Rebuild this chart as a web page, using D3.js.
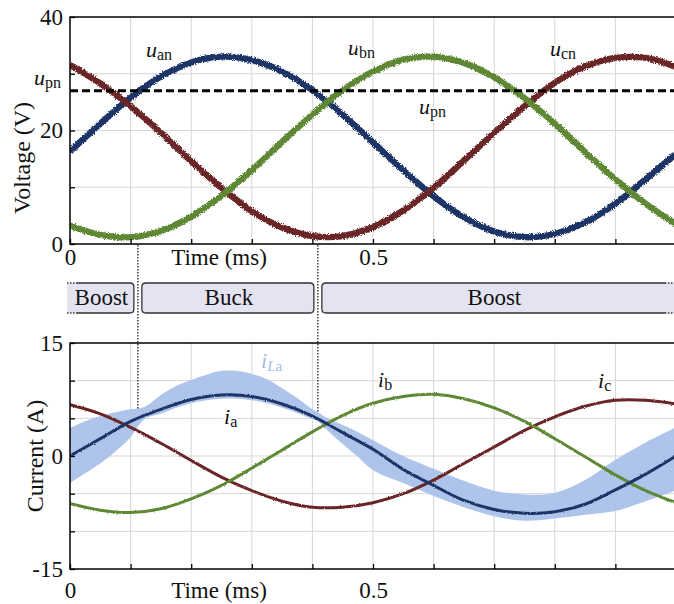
<!DOCTYPE html>
<html>
<head>
<meta charset="utf-8">
<script src="https://cdn.jsdelivr.net/npm/d3@7"></script>
<style>
  html, body { margin: 0; padding: 0; background: #fff; }
  svg { display: block; font-family: "Liberation Serif", "Times New Roman", serif; }
</style>
</head>
<body>
<svg id="chart" width="674" height="604"></svg>
<script>
// ---- sampled waveforms (time in ms) ----
const time = [0, 0.05, 0.1, 0.15, 0.2, 0.25, 0.3, 0.35, 0.4, 0.45, 0.5,
              0.55, 0.6, 0.65, 0.7, 0.75, 0.8, 0.85, 0.9, 0.95, 1.0];

// phase voltages (V)
const uAn = [16.3, 21.2, 25.8, 29.5, 32.0, 33.0, 32.4, 30.4, 27.1, 22.8, 17.9,
             13.0, 8.4, 4.7, 2.2, 1.2, 1.8, 3.8, 7.1, 11.4, 15.9];
const uBn = [3.2, 1.6, 1.2, 2.3, 4.8, 8.5, 13.0, 18.0, 22.8, 27.1, 30.4,
             32.5, 33.0, 31.9, 29.4, 25.7, 21.2, 16.2, 11.4, 7.1, 3.5];
const uCn = [31.6, 28.3, 24.3, 19.6, 14.6, 9.9, 5.8, 2.9, 1.4, 1.4, 3.0,
             5.9, 9.9, 14.7, 19.6, 24.3, 28.4, 31.3, 32.8, 32.8, 31.2];
const uPn = 27;

// phase currents (A)
const iA = [0.0, 2.3, 4.6, 6.2, 7.5, 8.1, 7.9, 6.9, 5.3, 3.1, 0.9,
            -1.8, -3.9, -5.9, -7.1, -7.6, -7.4, -6.4, -4.5, -2.4, 0.0];
const iB = [-6.3, -7.2, -7.5, -7.0, -5.7, -3.9, -1.6, 0.8, 3.2, 5.4, 7.0,
            7.9, 8.2, 7.6, 6.4, 4.6, 2.3, -0.1, -2.5, -4.6, -6.2];
const iC = [6.8, 5.6, 3.8, 1.7, -0.6, -2.8, -4.6, -6.0, -6.8, -6.8, -6.2,
            -5.0, -3.2, -1.0, 1.2, 3.4, 5.2, 6.6, 7.4, 7.4, 6.9];

// inductor current ripple envelope (A)
const bandTime = [0, 0.025, 0.05, 0.075, 0.1, 0.112, 0.125, 0.15, 0.175, 0.2, 0.225,
                  0.25, 0.275, 0.3, 0.325, 0.35, 0.375, 0.4, 0.409, 0.425, 0.45,
                  0.475, 0.5, 0.55, 0.6, 0.65, 0.7, 0.75, 0.8, 0.85, 0.9, 0.95, 1.0];
const iLaUpper = [3.7, 4.6, 5.3, 5.8, 6.2, 6.3, 6.6, 8.1, 9.3, 10.1, 10.8,
                  11.3, 11.3, 10.9, 10.2, 9.0, 7.7, 6.2, 5.8, 5.0, 4.1,
                  3.2, 2.1, 0.0, -1.7, -3.3, -4.6, -5.1, -4.9, -3.2, -0.5, 1.8, 3.8];
const iLaLower = [-3.6, -2.3, -1.0, 0.6, 2.5, 3.9, 5.0, 5.6, 6.4, 7.0, 7.4,
                  7.6, 7.6, 7.4, 7.0, 6.4, 5.7, 4.9, 4.6, 3.4, 1.6,
                  -0.1, -1.9, -3.6, -5.3, -6.8, -8.0, -8.6, -8.3, -7.8, -7.3, -6.0, -4.6];

// operating modes
const modeNames = ["Boost", "Buck", "Boost"];
const modeStart = [0, 0.112, 0.409];
const modeEnd   = [0.112, 0.409, 1.0];
const switchTimes = [0.112, 0.409];

// ticks
const timeTicks = [0, 0.1, 0.2, 0.3, 0.4, 0.5, 0.6, 0.7, 0.8, 0.9, 1.0];
const timeTickLabels = ["0", "", "", "", "", "0.5", "", "", "", "", ""];
const voltTicks = [0, 10, 20, 30, 40];
const voltTickLabels = ["0", "", "20", "", "40"];
const currTicks = [-15, -10, -5, 0, 5, 10, 15];
const currTickLabels = ["-15", "", "", "0", "", "", "15"];

// ---- colours ----
const C_BLUE = "#1d3466", C_RED = "#6a2528", C_GREEN = "#5e8836", C_BAND = "#abc1e9";
const GRID = "#d6d6d6";

const svg = d3.select("#chart");
const x = d3.scaleLinear().domain([0, 1]).range([70, 676]);
const yV = d3.scaleLinear().domain([0, 40]).range([244, 17]);
const yI = d3.scaleLinear().domain([-15, 15]).range([569, 343]);

const defs = svg.append("defs");
defs.append("clipPath").attr("id", "clipTop").append("rect")
  .attr("x", 70).attr("y", 17).attr("width", 606).attr("height", 227);
defs.append("clipPath").attr("id", "clipBot").append("rect")
  .attr("x", 70).attr("y", 343).attr("width", 606).attr("height", 226);

// measurement noise on the scope traces
function roughFilter(id, freq, scale) {
  const f = defs.append("filter").attr("id", id)
    .attr("filterUnits", "userSpaceOnUse")
    .attr("x", 0).attr("y", 0).attr("width", 674).attr("height", 604);
  f.append("feTurbulence").attr("type", "fractalNoise")
    .attr("baseFrequency", freq).attr("numOctaves", 2).attr("seed", 7).attr("result", "n");
  f.append("feDisplacementMap").attr("in", "SourceGraphic").attr("in2", "n")
    .attr("scale", scale).attr("xChannelSelector", "R").attr("yChannelSelector", "G");
}
roughFilter("roughTop", 0.9, 4);
roughFilter("roughBot", 1.1, 2.2);

// ---------------- voltage panel ----------------
const gTop = svg.append("g");

gTop.append("g").selectAll("line").data(timeTicks.slice(1)).join("line")
  .attr("x1", d => x(d)).attr("x2", d => x(d)).attr("y1", 17).attr("y2", 244)
  .attr("stroke", GRID).attr("stroke-width", 1);
gTop.append("g").selectAll("line").data(voltTicks.slice(1, -1)).join("line")
  .attr("x1", 70).attr("x2", 676).attr("y1", d => yV(d)).attr("y2", d => yV(d))
  .attr("stroke", GRID).attr("stroke-width", 1);

const lineV = vals => d3.line().x((d, i) => x(time[i])).y(d => yV(d)).curve(d3.curveCatmullRom)(vals);
const traces = gTop.append("g").attr("clip-path", "url(#clipTop)")
  .append("g").attr("filter", "url(#roughTop)");
[[uAn, C_BLUE], [uCn, C_RED], [uBn, C_GREEN]].forEach(([v, c]) => {
  traces.append("path").attr("d", lineV(v)).attr("fill", "none")
    .attr("stroke", c).attr("stroke-width", 6.3).attr("stroke-linejoin", "round");
});

gTop.append("line")
  .attr("x1", x(0)).attr("x2", x(1)).attr("y1", yV(uPn)).attr("y2", yV(uPn))
  .attr("stroke", "#000").attr("stroke-width", 3).attr("stroke-dasharray", "8,4");

// frame + axes
gTop.append("path").attr("d", `M${x(0)},${yV(0)}V${yV(40)}H${x(1)}V${yV(0)}Z`)
  .attr("fill", "none").attr("stroke", "#000").attr("stroke-width", 1.5);

function styleAxis(g, size) {
  g.select(".domain").remove();
  g.selectAll(".tick line").attr("stroke", "#000").attr("stroke-width", 1.3);
  g.selectAll(".tick text").attr("font-size", size).attr("fill", "#111")
    .attr("font-family", "Liberation Serif, serif");
}
const xAxisTop = svg.append("g").attr("transform", `translate(0,${yV(0)})`)
  .call(d3.axisBottom(x).tickValues(timeTicks).tickSize(-5).tickPadding(4.5)
    .tickFormat((d, i) => timeTickLabels[i]));
styleAxis(xAxisTop, 23);
const yAxisTop = svg.append("g").attr("transform", `translate(${x(0)},0)`)
  .call(d3.axisLeft(yV).tickValues(voltTicks).tickSize(-5).tickPadding(7)
    .tickFormat((d, i) => voltTickLabels[i]));
styleAxis(yAxisTop, 23);

svg.append("text").attr("x", 219).attr("y", 265).attr("text-anchor", "middle")
  .attr("font-size", 23).attr("fill", "#111").text("Time (ms)");
svg.append("text").attr("transform", "translate(30,158) rotate(-90)")
  .attr("text-anchor", "middle").attr("font-size", 24).attr("fill", "#111").text("Voltage (V)");

function subLabel(xp, yp, main, sub, opts = {}) {
  const t = svg.append("text").attr("x", xp).attr("y", yp)
    .attr("fill", opts.color || "#111").attr("font-size", opts.size || 22);
  if (opts.halo) t.attr("stroke", "#fff").attr("stroke-width", 4).attr("paint-order", "stroke");
  t.append("tspan").attr("font-style", "italic").text(main);
  if (Array.isArray(sub)) {
    t.append("tspan").attr("font-size", opts.subSize || 15).attr("dy", opts.dy || 3)
      .attr("font-style", "italic").text(sub[0]);
    t.append("tspan").attr("font-size", opts.subSize || 15).text(sub[1]);
  } else {
    t.append("tspan").attr("font-size", opts.subSize || 16).attr("dy", opts.dy || 3).text(sub);
  }
  return t;
}
subLabel(146, 57, "u", "an", { halo: true });
subLabel(348, 55, "u", "bn", { halo: true });
subLabel(550, 56, "u", "cn", { halo: true });
subLabel(419, 114, "u", "pn", { halo: true });
subLabel(34, 85, "u", "pn");

// ---------------- mode bar ----------------
const barTop = 283, barBot = 313, rr = 4;
const bar = svg.append("g");
modeNames.forEach((name, i) => {
  const openL = modeStart[i] === 0, openR = modeEnd[i] === 1;
  const xa = openL ? x(modeStart[i]) - 3 : x(modeStart[i]) + 4;
  const xb = openR ? x(modeEnd[i]) - 11 : x(modeEnd[i]) - 4;
  const xfill = openR ? x(modeEnd[i]) : xb;
  bar.append("rect").attr("x", xa).attr("y", barTop).attr("width", xfill - xa)
    .attr("height", barBot - barTop).attr("fill", "#e3e3f1");
  let d;
  const sa = openL ? xa + 9 : xa;
  if (openL) {
    d = `M${sa},${barTop}H${xb - rr}Q${xb},${barTop} ${xb},${barTop + rr}V${barBot - rr}Q${xb},${barBot} ${xb - rr},${barBot}H${sa}`;
  } else if (openR) {
    d = `M${xb},${barTop}H${xa + rr}Q${xa},${barTop} ${xa},${barTop + rr}V${barBot - rr}Q${xa},${barBot} ${xa + rr},${barBot}H${xb}`;
  } else {
    d = `M${xa + rr},${barTop}H${xb - rr}Q${xb},${barTop} ${xb},${barTop + rr}V${barBot - rr}Q${xb},${barBot} ${xb - rr},${barBot}H${xa + rr}Q${xa},${barBot} ${xa},${barBot - rr}V${barTop + rr}Q${xa},${barTop} ${xa + rr},${barTop}Z`;
  }
  bar.append("path").attr("d", d).attr("fill", "none").attr("stroke", "#333").attr("stroke-width", 1.3);
  if (openL) {
    bar.append("path").attr("d", `M${xa},${barTop}H${sa}M${xa},${barBot}H${sa}`)
      .attr("stroke", "#333").attr("stroke-width", 1.3).attr("stroke-dasharray", "1.5,1.5");
  }
  if (openR) {
    bar.append("path").attr("d", `M${xb},${barTop}H${x(1)}M${xb},${barBot}H${x(1)}`)
      .attr("stroke", "#333").attr("stroke-width", 1.3).attr("stroke-dasharray", "1.5,1.5");
  }
  bar.append("text").attr("x", (xa + xb) / 2 + 1).attr("y", 305).attr("text-anchor", "middle")
    .attr("font-size", 23).attr("fill", "#111").text(name);
});

// ---------------- current panel ----------------
const gBot = svg.append("g");
gBot.append("g").selectAll("line").data(timeTicks.slice(1)).join("line")
  .attr("x1", d => x(d)).attr("x2", d => x(d)).attr("y1", 343).attr("y2", 569)
  .attr("stroke", GRID).attr("stroke-width", 1);
gBot.append("g").selectAll("line").data(currTicks.slice(1, -1)).join("line")
  .attr("x1", 70).attr("x2", 676).attr("y1", d => yI(d)).attr("y2", d => yI(d))
  .attr("stroke", GRID).attr("stroke-width", 1);

const plotBot = gBot.append("g").attr("clip-path", "url(#clipBot)");
const bandArea = d3.area().x((d, i) => x(bandTime[i]))
  .y0((d, i) => yI(iLaLower[i])).y1(d => yI(d)).curve(d3.curveCatmullRom);
plotBot.append("path").attr("d", bandArea(iLaUpper)).attr("fill", C_BAND).attr("opacity", 0.95);

const lineI = vals => d3.line().x((d, i) => x(time[i])).y(d => yI(d)).curve(d3.curveCatmullRom)(vals);
const ctr = plotBot.append("g").attr("filter", "url(#roughBot)");
[[iC, C_RED], [iB, C_GREEN], [iA, C_BLUE]].forEach(([v, c]) => {
  ctr.append("path").attr("d", lineI(v)).attr("fill", "none")
    .attr("stroke", c).attr("stroke-width", 3).attr("stroke-linejoin", "round");
});

gBot.append("path").attr("d", `M${x(0)},${yI(-15)}V${yI(15)}H${x(1)}V${yI(-15)}Z`)
  .attr("fill", "none").attr("stroke", "#000").attr("stroke-width", 1.5);

const xAxisBot = svg.append("g").attr("transform", `translate(0,${yI(-15)})`)
  .call(d3.axisBottom(x).tickValues(timeTicks).tickSize(-5).tickPadding(12.5)
    .tickFormat((d, i) => timeTickLabels[i]));
styleAxis(xAxisBot, 23);
const yAxisBot = svg.append("g").attr("transform", `translate(${x(0)},0)`)
  .call(d3.axisLeft(yI).tickValues(currTicks).tickSize(-5).tickPadding(7)
    .tickFormat((d, i) => currTickLabels[i]));
styleAxis(yAxisBot, 23);

svg.append("text").attr("x", 219).attr("y", 598).attr("text-anchor", "middle")
  .attr("font-size", 23).attr("fill", "#111").text("Time (ms)");
svg.append("text").attr("transform", "translate(43,456) rotate(-90)")
  .attr("text-anchor", "middle").attr("font-size", 24).attr("fill", "#111").text("Current (A)");

subLabel(261, 368, "i", ["L", "a"], { color: "#a6bde4", halo: true });
subLabel(224, 424, "i", "a", { halo: true });
subLabel(378, 387, "i", "b", { halo: true });
subLabel(598, 388, "i", "c", { halo: true });

// mode switching instants
switchTimes.forEach(t => {
  const k = bandTime.indexOf(t);
  svg.append("line").attr("x1", x(t)).attr("x2", x(t))
    .attr("y1", yV(0) + 1).attr("y2", yI(iLaUpper[k]))
    .attr("stroke", "#111").attr("stroke-width", 1.2).attr("stroke-dasharray", "1.5,1.5");
});
</script>
</body>
</html>
